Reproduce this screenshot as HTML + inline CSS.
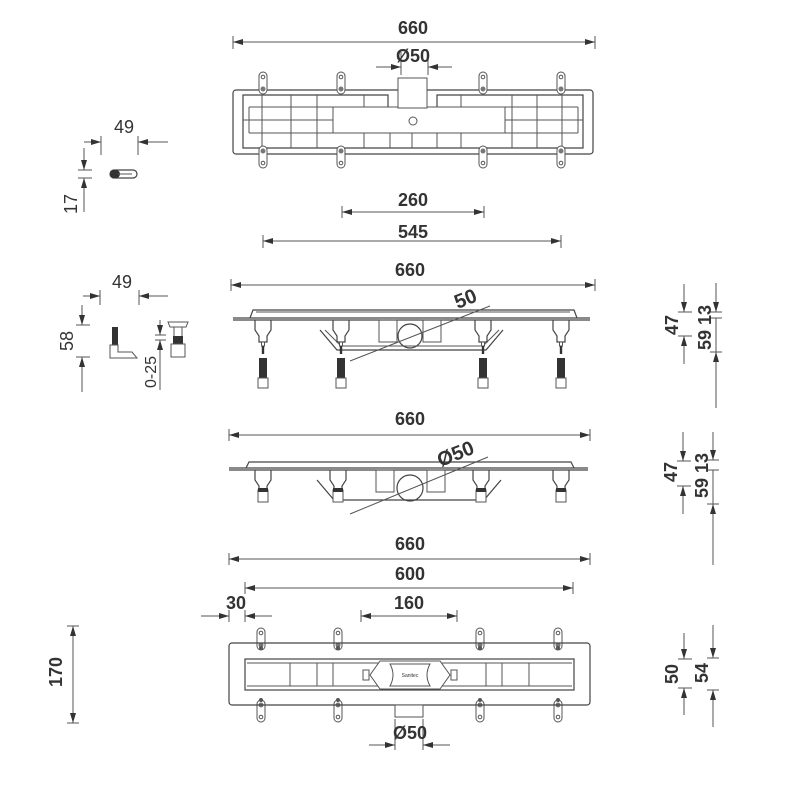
<!DOCTYPE html>
<html><head><meta charset="utf-8"><style>
html,body{margin:0;padding:0;background:#fff;}
svg{display:block;}
text{font-family:"Liberation Sans",sans-serif;font-size:18px;font-weight:bold;fill:#333;text-anchor:middle;}
.d{stroke:#555;stroke-width:1;fill:none;}
.o{stroke:#444;stroke-width:1.2;fill:none;}
.t{stroke:#555;stroke-width:1;fill:#fff;}
</style></head><body>
<svg width="800" height="800" viewBox="0 0 800 800" xmlns="http://www.w3.org/2000/svg">
<defs>
<marker id="a" viewBox="0 0 10 6" refX="10" refY="3" markerWidth="14" markerHeight="6" markerUnits="userSpaceOnUse" orient="auto-start-reverse"><path d="M0,0L10,3L0,6z" fill="#333"/></marker>
<g id="tab"><rect x="-4" y="0" width="8" height="22" rx="4" class="t"/><circle cx="0" cy="5" r="1.8" class="d"/><circle cx="0" cy="17" r="2.5" fill="#777"/></g>
<g id="screw"><rect x="-1.5" y="0" width="3" height="4" class="t"/><rect x="-1.2" y="4" width="2.4" height="8" fill="#333"/><rect x="-4" y="16" width="8" height="22" fill="#333"/><rect x="-5" y="36" width="10" height="10" class="t"/></g>
<g id="leg"><path d="M-8,0 L-8,10 L-4,16 L-4,22 L4,22 L4,16 L8,10 L8,0" class="o"/></g>
</defs>

<!-- TOP VIEW dims -->
<line class="d" x1="233" y1="36" x2="233" y2="49"/><line class="d" x1="595" y1="36" x2="595" y2="49"/>
<line class="d" x1="233" y1="42" x2="595" y2="42" marker-start="url(#a)" marker-end="url(#a)"/>
<text x="413" y="34">660</text>
<line class="d" x1="401" y1="52" x2="401" y2="75"/><line class="d" x1="428" y1="52" x2="428" y2="75"/>
<line class="d" x1="376" y1="67" x2="401" y2="67" marker-end="url(#a)"/><line class="d" x1="452" y1="67" x2="428" y2="67" marker-end="url(#a)"/>
<text x="413" y="62">Ø50</text>

<!-- TOP VIEW -->
<rect x="233" y="90" width="360" height="64" rx="3" class="o"/>
<path d="M388,107 V95 H243 V148 H583 V95 H437 V107" class="o" stroke-width="1.6"/>
<g class="d" stroke-width="1.4">
<line x1="249" y1="107" x2="578" y2="107"/><line x1="249" y1="133" x2="578" y2="133"/>
<line x1="249" y1="107" x2="249" y2="133"/><line x1="578" y1="107" x2="578" y2="133"/>
<line x1="243" y1="120" x2="333" y2="120"/><line x1="505" y1="120" x2="583" y2="120"/>
<line x1="262" y1="95" x2="262" y2="148"/><line x1="291" y1="95" x2="291" y2="148"/><line x1="317" y1="95" x2="317" y2="148"/>
<line x1="364" y1="95" x2="364" y2="107"/><line x1="364" y1="133" x2="364" y2="148"/>
<line x1="390" y1="133" x2="390" y2="148"/><line x1="412" y1="133" x2="412" y2="148"/><line x1="437" y1="133" x2="437" y2="148"/><line x1="461" y1="95" x2="461" y2="148"/>
<line x1="512" y1="95" x2="512" y2="148"/><line x1="537" y1="95" x2="537" y2="148"/><line x1="562" y1="95" x2="562" y2="148"/>
</g>
<rect x="333" y="107" width="172" height="26" class="t" stroke-width="1.4"/>
<rect x="398" y="78" width="29" height="30" class="t"/>
<circle cx="413" cy="121" r="4" class="d"/>
<use href="#tab" x="263" y="72"/><use href="#tab" x="341" y="72"/><use href="#tab" x="483" y="72"/><use href="#tab" x="561" y="72"/>
<g transform="translate(0,240) scale(1,-1)"><use href="#tab" x="263" y="72"/><use href="#tab" x="341" y="72"/><use href="#tab" x="483" y="72"/><use href="#tab" x="561" y="72"/></g>

<!-- small part 1 -->
<line class="d" x1="101" y1="136" x2="101" y2="155"/><line class="d" x1="138" y1="136" x2="138" y2="155"/>
<line class="d" x1="84" y1="142" x2="101" y2="142" marker-end="url(#a)"/><line class="d" x1="168" y1="142" x2="138" y2="142" marker-end="url(#a)"/>
<text x="124" y="133" style="font-weight:normal">49</text>
<line class="d" x1="84" y1="148" x2="84" y2="170" marker-end="url(#a)"/><line class="d" x1="84" y1="212" x2="84" y2="178" marker-end="url(#a)"/>
<line class="d" x1="78" y1="170" x2="92" y2="170"/><line class="d" x1="78" y1="178" x2="92" y2="178"/>
<text x="0" y="0" transform="translate(77,204) rotate(-90)" style="font-weight:normal">17</text>
<rect x="110" y="170" width="27" height="8" rx="4" class="o"/><rect x="110" y="170" width="10" height="8" rx="4" fill="#333"/><line class="d" x1="118" y1="174" x2="132" y2="174"/>

<!-- 260 / 545 / 660 -->
<line class="d" x1="342" y1="206" x2="342" y2="218"/><line class="d" x1="484" y1="206" x2="484" y2="218"/>
<line class="d" x1="342" y1="212" x2="484" y2="212" marker-start="url(#a)" marker-end="url(#a)"/>
<text x="413" y="206">260</text>
<line class="d" x1="263" y1="235" x2="263" y2="248"/><line class="d" x1="561" y1="235" x2="561" y2="248"/>
<line class="d" x1="263" y1="241" x2="561" y2="241" marker-start="url(#a)" marker-end="url(#a)"/>
<text x="413" y="238">545</text>
<line class="d" x1="231" y1="279" x2="231" y2="291"/><line class="d" x1="595" y1="279" x2="595" y2="291"/>
<line class="d" x1="231" y1="285" x2="595" y2="285" marker-start="url(#a)" marker-end="url(#a)"/>
<text x="410" y="276">660</text>

<!-- SIDE VIEW 1 -->
<path d="M233,318 H590 M233,320 H590" class="o"/>
<path d="M250,318 L253,310 H574 L577,318" class="o"/>
<path d="M256,312 H570" class="d"/>
<g transform="translate(263,320)"><use href="#leg"/></g>
<g transform="translate(561,320)"><use href="#leg"/></g>
<path d="M320,330 L337,350 H486 L503,330" class="o"/>
<path d="M325,330 L341,346 H483 L499,330" class="d"/>
<g transform="translate(341,320)"><use href="#leg"/></g>
<g transform="translate(483,320)"><use href="#leg"/></g>
<rect x="379" y="320" width="18" height="22" class="d"/><rect x="423" y="320" width="18" height="22" class="d"/>
<circle cx="410" cy="336" r="12" class="o" stroke-width="2" fill="#fff"/>
<line class="d" x1="350" y1="361" x2="490" y2="306"/>
<text transform="translate(468,305) rotate(-22)" style="font-size:20px">50</text>
<use href="#screw" x="263" y="342"/><use href="#screw" x="341" y="342"/><use href="#screw" x="483" y="342"/><use href="#screw" x="561" y="342"/>

<!-- small part 2 -->
<line class="d" x1="100" y1="290" x2="100" y2="305"/><line class="d" x1="139" y1="290" x2="139" y2="305"/>
<line class="d" x1="83" y1="296" x2="100" y2="296" marker-end="url(#a)"/><line class="d" x1="168" y1="296" x2="139" y2="296" marker-end="url(#a)"/>
<text x="122" y="288" style="font-weight:normal">49</text>
<line class="d" x1="82" y1="305" x2="82" y2="325" marker-end="url(#a)"/><line class="d" x1="82" y1="392" x2="82" y2="357" marker-end="url(#a)"/>
<line class="d" x1="76" y1="325" x2="90" y2="325"/><line class="d" x1="76" y1="357" x2="90" y2="357"/>
<text transform="translate(73,341) rotate(-90)" style="font-weight:normal">58</text>
<rect x="112" y="327" width="6" height="18" fill="#333"/>
<path d="M110,345 H118 V352 L132,352 L137,358 H110 Z" class="t"/>
<line class="d" x1="160" y1="320" x2="160" y2="335" marker-end="url(#a)"/><line class="d" x1="160" y1="390" x2="160" y2="340" marker-end="url(#a)"/>
<line class="d" x1="155" y1="335" x2="166" y2="335"/><line class="d" x1="155" y1="340" x2="166" y2="340"/>
<text transform="translate(156,372) rotate(-90)" style="font-size:16px;font-weight:normal">0-25</text>
<path d="M168,322 H188 L186,327 H170 Z" class="t"/>
<line class="d" x1="174" y1="327" x2="174" y2="336"/><line class="d" x1="182" y1="327" x2="182" y2="336"/>
<rect x="173" y="336" width="10" height="8" fill="#333"/>
<rect x="171" y="344" width="14" height="13" class="t"/>

<!-- right dims 1 -->
<line class="d" x1="684" y1="284" x2="684" y2="312" marker-end="url(#a)"/><line class="d" x1="684" y1="364" x2="684" y2="336" marker-end="url(#a)"/>
<line class="d" x1="678" y1="312" x2="692" y2="312"/><line class="d" x1="678" y1="336" x2="692" y2="336"/>
<line class="d" x1="716" y1="283" x2="716" y2="312" marker-end="url(#a)"/><line class="d" x1="716" y1="318" x2="716" y2="408"/>
<line class="d" x1="716" y1="365" x2="716" y2="352" marker-end="url(#a)"/>
<line class="d" x1="710" y1="312" x2="722" y2="312"/><line class="d" x1="710" y1="318" x2="722" y2="318"/><line class="d" x1="710" y1="352" x2="722" y2="352"/>
<text transform="translate(678,325) rotate(-90)">47</text>
<text transform="translate(711,315) rotate(-90)">13</text>
<text transform="translate(711,340) rotate(-90)">59</text>

<!-- SIDE VIEW 2 -->
<line class="d" x1="229" y1="429" x2="229" y2="441"/><line class="d" x1="590" y1="429" x2="590" y2="441"/>
<line class="d" x1="229" y1="435" x2="590" y2="435" marker-start="url(#a)" marker-end="url(#a)"/>
<text x="410" y="425">660</text>
<path d="M229,468 H588 M229,470 H588" class="o"/>
<path d="M246,468 L249,462 H571 L574,468" class="o"/>
<g transform="translate(263,470)"><use href="#leg"/><rect x="-5" y="20" width="10" height="12" class="t"/><rect x="-5" y="18" width="10" height="4" fill="#333"/></g>
<g transform="translate(561,470)"><use href="#leg"/><rect x="-5" y="20" width="10" height="12" class="t"/><rect x="-5" y="18" width="10" height="4" fill="#333"/></g>
<path d="M317,480 L334,500 H484 L501,480" class="o"/>
<g transform="translate(338,470)"><use href="#leg"/><rect x="-5" y="20" width="10" height="12" class="t"/><rect x="-5" y="18" width="10" height="4" fill="#333"/></g>
<g transform="translate(481,470)"><use href="#leg"/><rect x="-5" y="20" width="10" height="12" class="t"/><rect x="-5" y="18" width="10" height="4" fill="#333"/></g>
<rect x="376" y="470" width="18" height="22" class="d"/><rect x="427" y="470" width="18" height="22" class="d"/>
<circle cx="410" cy="488" r="13" class="o" stroke-width="2" fill="#fff"/>
<line class="d" x1="350" y1="514" x2="488" y2="457"/>
<text transform="translate(458,460) rotate(-22)" style="font-size:20px">Ø50</text>

<!-- right dims 2 -->
<line class="d" x1="683" y1="432" x2="683" y2="461" marker-end="url(#a)"/><line class="d" x1="683" y1="514" x2="683" y2="486" marker-end="url(#a)"/>
<line class="d" x1="677" y1="461" x2="691" y2="461"/><line class="d" x1="677" y1="486" x2="691" y2="486"/>
<line class="d" x1="713" y1="432" x2="713" y2="460" marker-end="url(#a)"/><line class="d" x1="713" y1="470" x2="713" y2="565"/>
<line class="d" x1="713" y1="517" x2="713" y2="504" marker-end="url(#a)"/>
<line class="d" x1="707" y1="460" x2="719" y2="460"/><line class="d" x1="707" y1="470" x2="719" y2="470"/><line class="d" x1="707" y1="504" x2="719" y2="504"/>
<text transform="translate(677,472) rotate(-90)">47</text>
<text transform="translate(708,463) rotate(-90)">13</text>
<text transform="translate(708,488) rotate(-90)">59</text>

<!-- BOTTOM dims -->
<line class="d" x1="229" y1="553" x2="229" y2="565"/><line class="d" x1="590" y1="553" x2="590" y2="565"/>
<line class="d" x1="229" y1="559" x2="590" y2="559" marker-start="url(#a)" marker-end="url(#a)"/>
<text x="410" y="550">660</text>
<line class="d" x1="245" y1="582" x2="245" y2="594"/><line class="d" x1="573" y1="582" x2="573" y2="594"/>
<line class="d" x1="245" y1="588" x2="573" y2="588" marker-start="url(#a)" marker-end="url(#a)"/>
<text x="410" y="580">600</text>
<line class="d" x1="229" y1="610" x2="229" y2="622"/><line class="d" x1="245" y1="610" x2="245" y2="622"/>
<line class="d" x1="201" y1="616" x2="229" y2="616" marker-end="url(#a)"/><line class="d" x1="272" y1="616" x2="245" y2="616" marker-end="url(#a)"/>
<text x="236" y="609">30</text>
<line class="d" x1="361" y1="610" x2="361" y2="622"/><line class="d" x1="457" y1="610" x2="457" y2="622"/>
<line class="d" x1="361" y1="616" x2="457" y2="616" marker-start="url(#a)" marker-end="url(#a)"/>
<text x="409" y="609">160</text>
<line class="d" x1="67" y1="626" x2="79" y2="626"/><line class="d" x1="67" y1="723" x2="79" y2="723"/>
<line class="d" x1="73" y1="626" x2="73" y2="723" marker-start="url(#a)" marker-end="url(#a)"/>
<text transform="translate(62,672) rotate(-90)">170</text>

<!-- BOTTOM VIEW -->
<use href="#tab" x="261" y="628"/><use href="#tab" x="338" y="628"/><use href="#tab" x="480" y="628"/><use href="#tab" x="558" y="628"/>
<g transform="translate(0,1350) scale(1,-1)"><use href="#tab" x="261" y="628"/><use href="#tab" x="338" y="628"/><use href="#tab" x="480" y="628"/><use href="#tab" x="558" y="628"/></g>
<rect x="229" y="643" width="361" height="62" rx="3" class="o" fill="#fff"/>
<circle cx="261" cy="648" r="2" fill="#555"/><circle cx="338" cy="648" r="2" fill="#555"/><circle cx="480" cy="648" r="2" fill="#555"/><circle cx="558" cy="648" r="2" fill="#555"/>
<circle cx="261" cy="700" r="2" fill="#555"/><circle cx="338" cy="700" r="2" fill="#555"/><circle cx="480" cy="700" r="2" fill="#555"/><circle cx="558" cy="700" r="2" fill="#555"/>
<rect x="245" y="659" width="329" height="31" class="o" stroke-width="1.8"/>
<line class="d" x1="247" y1="663" x2="572" y2="663"/><line class="d" x1="247" y1="686" x2="572" y2="686"/>
<g class="d"><line x1="290" y1="663" x2="290" y2="686"/><line x1="317" y1="663" x2="317" y2="686"/><line x1="333" y1="663" x2="333" y2="686"/><line x1="486" y1="663" x2="486" y2="686"/><line x1="502" y1="663" x2="502" y2="686"/><line x1="529" y1="663" x2="529" y2="686"/></g>
<path d="M380,661 H440 L450,675 L440,689 H380 L370,675 Z" class="t" stroke-width="1.3"/>
<path d="M390,664 H430 Q424,675 430,686 H390 Q396,675 390,664 Z" fill="#fff" stroke="#555"/>
<rect x="363" y="670" width="6" height="10" class="d"/><rect x="451" y="670" width="6" height="10" class="d"/>
<text x="410" y="677" style="font-size:5px;font-weight:normal">Sanitec</text>
<rect x="395" y="705" width="28" height="12" class="t"/>
<line class="d" x1="395" y1="719" x2="395" y2="750"/><line class="d" x1="423" y1="719" x2="423" y2="750"/>
<line class="d" x1="369" y1="745" x2="395" y2="745" marker-end="url(#a)"/><line class="d" x1="450" y1="745" x2="423" y2="745" marker-end="url(#a)"/>
<text x="410" y="739">Ø50</text>

<!-- right dims 3 -->
<line class="d" x1="684" y1="633" x2="684" y2="659" marker-end="url(#a)"/><line class="d" x1="684" y1="715" x2="684" y2="688" marker-end="url(#a)"/>
<line class="d" x1="678" y1="659" x2="692" y2="659"/><line class="d" x1="678" y1="688" x2="692" y2="688"/>
<line class="d" x1="713" y1="625" x2="713" y2="658" marker-end="url(#a)"/><line class="d" x1="713" y1="727" x2="713" y2="690" marker-end="url(#a)"/>
<line class="d" x1="707" y1="658" x2="719" y2="658"/><line class="d" x1="707" y1="690" x2="719" y2="690"/>
<text transform="translate(678,674) rotate(-90)">50</text>
<text transform="translate(708,673) rotate(-90)">54</text>
</svg>
</body></html>
